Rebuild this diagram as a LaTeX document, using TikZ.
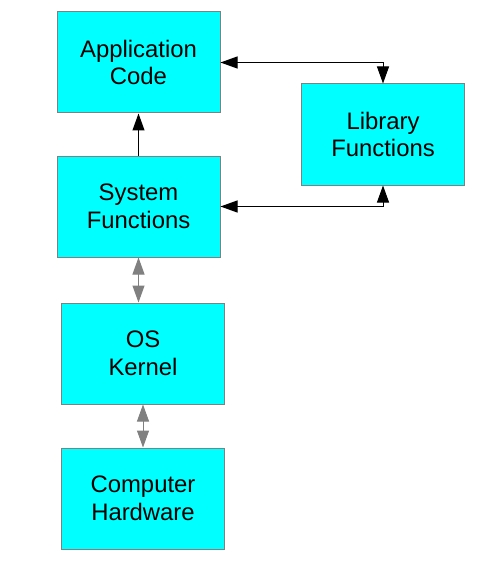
\documentclass[tikz,border=0pt]{standalone}
\usepackage{fontspec}
\setmainfont{Liberation Sans}
\usetikzlibrary{arrows.meta}
\definecolor{boxfill}{RGB}{0,255,255}
\definecolor{boxline}{RGB}{128,128,128}
\tikzset{
  blk/.style={draw=boxline, line width=0.75pt, fill=boxfill, align=center, inner sep=0pt,
    minimum width=122.25pt, minimum height=75.75pt,
    font=\fontsize{17.9}{20.6}\selectfont},
  blkarrow/.style={line width=0.75pt, -{Triangle[length=12.75pt,width=9pt]}},
  dblarrow/.style={line width=0.75pt, {Triangle[length=12.75pt,width=9pt]}-{Triangle[length=12.75pt,width=9pt]}},
  grayarrow/.style={dblarrow, draw=boxline, color=boxline}
}
\begin{document}
\begin{tikzpicture}[x=0.75pt,y=-0.75pt]
\useasboundingbox (0,0) rectangle (496,588);
\node[blk] (app) at (138.5,62.5) {Application\\Code};
\node[blk] (lib) at (383,134.5) {Library\\Functions};
\node[blk] (sys) at (138.5,206.5) {System\\Functions};
\node[blk] (os) at (143,353.5) {OS\\Kernel};
\node[blk] (hw) at (143,498.5) {Computer\\Hardware};
\draw[dblarrow] (app.east) -| (lib.north);
\draw[dblarrow] (sys.east) -| (lib.south);
\draw[blkarrow] (sys.north) -- (app.south);
\draw[grayarrow] (sys.south) -- (sys.south |- os.north);
\draw[grayarrow] (os.south) -- (hw.north);
\end{tikzpicture}
\end{document}
